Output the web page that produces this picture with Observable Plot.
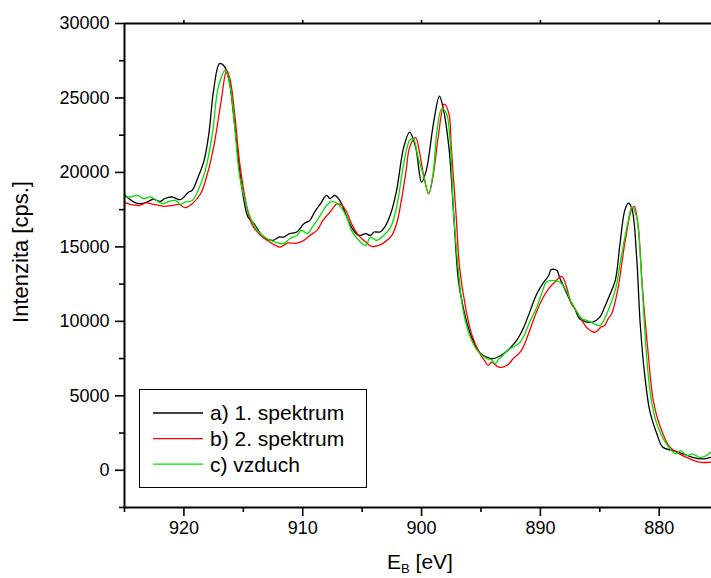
<!DOCTYPE html>
<html><head><meta charset="utf-8">
<script src="https://cdn.jsdelivr.net/npm/d3@7"></script>
<script src="https://cdn.jsdelivr.net/npm/@observablehq/plot@0.6"></script>
<style>
html,body{margin:0;padding:0;background:#fff;}
#chart{position:relative;width:711px;height:578px;overflow:hidden;}
</style></head><body><div id="chart"></div>
<script>
const seriesNames = ["a) 1. spektrum", "b) 2. spektrum", "c) vzduch"];
const seriesColors = ["#000000", "#ff0000", "#00e000"];
const xMajor = [920, 910, 900, 890, 880];
const xMinor = [925, 915, 905, 895, 885];
const yMajor = [0, 5000, 10000, 15000, 20000, 25000, 30000];
const yMinor = [-2500, 2500, 7500, 12500, 17500, 22500, 27500];

// a) 1. spektrum
const eA = [925.0,924.8,924.2,923.7,923.1,922.6,922.0,921.6,921.0,920.3,919.6,919.3,918.8,918.3,917.9,917.5,917.0,916.6,916.2,915.8,915.4,915.0,914.6,914.1,913.3,912.5,912.0,911.6,911.1,910.5,909.9,909.4,909.0,908.5,908.0,907.7,907.3,906.8,906.4,905.9,905.3,904.7,904.3,904.0,903.5,903.1,902.6,902.1,901.5,901.0,900.5,900.0,899.6,899.0,898.5,898.2,897.7,897.3,896.9,896.5,895.9,895.1,894.5,894.0,893.1,892.6,892.0,891.4,890.9,890.3,889.8,889.3,889.1,888.6,888.4,887.9,887.5,887.1,886.7,886.1,885.6,885.0,884.6,884.2,883.7,883.3,882.9,882.6,882.3,881.9,881.6,881.2,880.8,880.2,879.7,878.8,878.0,877.2,876.3,875.7];
const iA = [18510,18350,18010,17900,18010,18200,18050,18250,18350,18170,18680,18800,19690,20810,22600,25520,27310,27130,26190,23720,20810,18350,17000,16560,15660,15440,15660,15660,15890,16000,16560,16780,17340,17900,18460,18240,18460,18010,17230,16330,15770,15890,15770,16000,16000,16330,17230,18800,21700,22710,21700,19350,20140,23280,25130,24390,21700,17230,12750,10950,9170,7900,7590,7490,7820,8160,8720,9610,10620,11850,12530,13080,13470,13420,12970,12080,11400,10850,10170,9950,9950,10280,10950,11700,12750,15210,17450,17940,17570,14310,9840,6250,4010,2450,1550,1320,1100,870,760,870];

// b) 2. spektrum
const eB = [925.0,924.5,923.7,923.2,922.5,921.7,920.9,920.4,919.9,919.3,918.6,918.1,917.5,916.9,916.4,916.1,915.7,915.3,914.7,914.3,913.7,913.0,912.3,911.9,911.3,910.5,909.9,909.4,908.8,908.3,907.7,907.1,906.7,906.3,905.9,905.3,904.7,904.2,903.6,903.1,902.5,902.1,901.7,901.3,901.0,900.5,900.2,899.8,899.4,899.0,898.6,898.1,897.7,897.5,897.1,896.8,896.3,895.8,895.1,894.7,894.4,894.1,893.5,892.8,892.3,891.6,891.0,890.5,889.9,889.3,888.8,888.2,887.8,887.4,887.0,886.5,886.0,885.4,884.9,884.6,884.3,884.0,883.5,882.9,882.3,882.1,881.8,881.4,880.9,880.5,879.9,879.1,878.3,877.4,876.6,875.7];
const iB = [18010,17850,17790,17950,17850,17720,17790,17850,17630,17900,18570,19690,21700,24620,26860,26190,23720,20590,17670,16560,15890,15440,15100,14990,15250,15250,15440,15770,16110,16780,17340,17900,17790,17340,16560,15770,15320,15030,15100,15320,15770,16560,18120,20140,21700,22340,21480,19690,18570,19920,22380,24580,23950,21700,17230,13640,10950,9170,7850,7370,7040,7260,6920,7040,7490,8040,9170,10280,11400,12190,12630,13020,12300,11180,10730,10060,9500,9270,9610,9720,10170,10510,12080,15210,17570,17720,16560,12080,7590,4680,2890,1550,1100,760,540,540];

// c) vzduch
const eC = [925.0,924.5,923.9,923.4,922.8,922.3,921.8,921.4,920.7,920.3,919.9,919.3,918.8,918.2,917.6,917.1,916.5,916.1,915.7,915.3,914.7,914.3,913.7,913.0,912.3,911.6,911.1,910.5,910.1,909.6,909.2,908.7,908.1,907.7,907.3,906.8,906.3,905.9,905.3,904.7,904.3,903.8,903.2,902.6,902.1,901.5,901.0,900.7,900.3,899.8,899.4,899.0,898.7,898.3,897.9,897.6,897.3,896.9,896.5,895.9,895.2,894.5,894.1,893.8,893.5,893.3,892.8,892.3,891.7,891.3,890.9,890.3,889.9,889.5,889.1,888.6,888.2,887.7,887.4,887.0,886.5,886.1,885.6,885.0,884.6,884.3,883.7,883.2,882.6,882.3,881.9,881.5,881.1,880.7,880.2,879.4,878.6,878.2,877.7,877.2,876.6,876.0,875.7];
const iC = [18350,18350,18460,18240,18350,18120,17900,18010,18120,17850,18010,18120,18800,20140,22600,25740,26860,25740,22830,19690,17670,16780,16000,15550,15320,15210,15550,15770,16110,15890,16330,16890,17670,18010,18010,17670,17000,16110,15440,15100,15660,15440,15770,16330,17670,20590,22160,22270,21030,19690,18570,20140,22830,24280,23950,22160,17230,13420,10730,8940,7930,7490,7420,7150,7490,7590,8040,8270,8600,9170,9950,10950,11850,12630,12750,12700,12530,11850,11290,10730,10170,10060,9880,9720,10170,10730,12080,14310,16780,17670,17000,13200,8040,4900,3120,1770,1100,1320,990,1100,870,990,1210];

const rows = (e, v, s) => e.map((d, i) => ({E: d, I: v[i], s}));
const data = [
  ...rows(eA, iA, seriesNames[0]),
  ...rows(eB, iB, seriesNames[1]),
  ...rows(eC, iC, seriesNames[2])
];

const FONT = '"Liberation Sans", Arial, sans-serif';

const plot = Plot.plot({
  width: 711, height: 578,
  marginLeft: 124, marginRight: 0, marginTop: 23, marginBottom: 71,
  style: {fontFamily: FONT, fontSize: "18px", color: "#000", background: "#fff", overflow: "visible"},
  x: {domain: [925, 875.6], label: null},
  y: {domain: [-2500, 30000], label: null},
  color: {domain: seriesNames, range: seriesColors},
  marks: [
    Plot.line(data, {x: "E", y: "I", z: "s", stroke: "s", strokeWidth: 1.3, curve: "catmull-rom"}),
    Plot.ruleY([-2500], {strokeWidth: 2}),
    Plot.ruleY([30000], {strokeWidth: 2}),
    Plot.ruleX([925], {strokeWidth: 2}),
    Plot.axisX({ticks: xMajor, tickSize: 9, tickPadding: 5, strokeWidth: 1.6, label: null, tickFormat: d => String(d)}),
    Plot.axisX({ticks: xMinor, tickSize: 5, strokeWidth: 1.6, label: null, tickFormat: () => ""}),
    Plot.axisX({anchor: "top", ticks: xMajor, tickSize: 4, strokeWidth: 1.6, label: null, tickFormat: () => ""}),
    Plot.axisY({ticks: yMajor, tickSize: 9, tickPadding: 6, strokeWidth: 1.6, label: null, tickFormat: d => String(d)}),
    Plot.axisY({ticks: yMinor, tickSize: 5, strokeWidth: 1.6, label: null, tickFormat: () => ""})
  ]
});

document.getElementById("chart").appendChild(plot);

const svg = d3.select(plot);
// y axis title
svg.append("text")
  .attr("transform", "translate(28,252) rotate(-90)")
  .attr("text-anchor", "middle")
  .attr("font-family", FONT).attr("font-size", 22).attr("fill", "#000")
  .text("Intenzita [cps.]");
// x axis title
const xt = svg.append("text")
  .attr("x", 420).attr("y", 569)
  .attr("text-anchor", "middle")
  .attr("font-family", FONT).attr("font-size", 21).attr("fill", "#000");
xt.append("tspan").text("E");
xt.append("tspan").attr("font-size", 13).attr("dy", 4).text("B");
xt.append("tspan").attr("dy", -4).text(" [eV]");

// legend
const lg = svg.append("g").attr("text-anchor", "start");
lg.append("rect").attr("x", 139.5).attr("y", 389.5).attr("width", 227).attr("height", 98)
  .attr("fill", "#fff").attr("stroke", "#000").attr("stroke-width", 1);
seriesNames.forEach((name, i) => {
  const y = 413 + i * 25.6;
  lg.append("line").attr("x1", 153).attr("x2", 203).attr("y1", y).attr("y2", y)
    .attr("stroke", seriesColors[i]).attr("stroke-width", 1.3);
  lg.append("text").attr("x", 210).attr("y", y).attr("dy", "0.35em")
    .attr("text-anchor", "start")
    .attr("font-family", FONT).attr("font-size", 21).attr("fill", "#000").text(name);
});
</script>
</body></html>
